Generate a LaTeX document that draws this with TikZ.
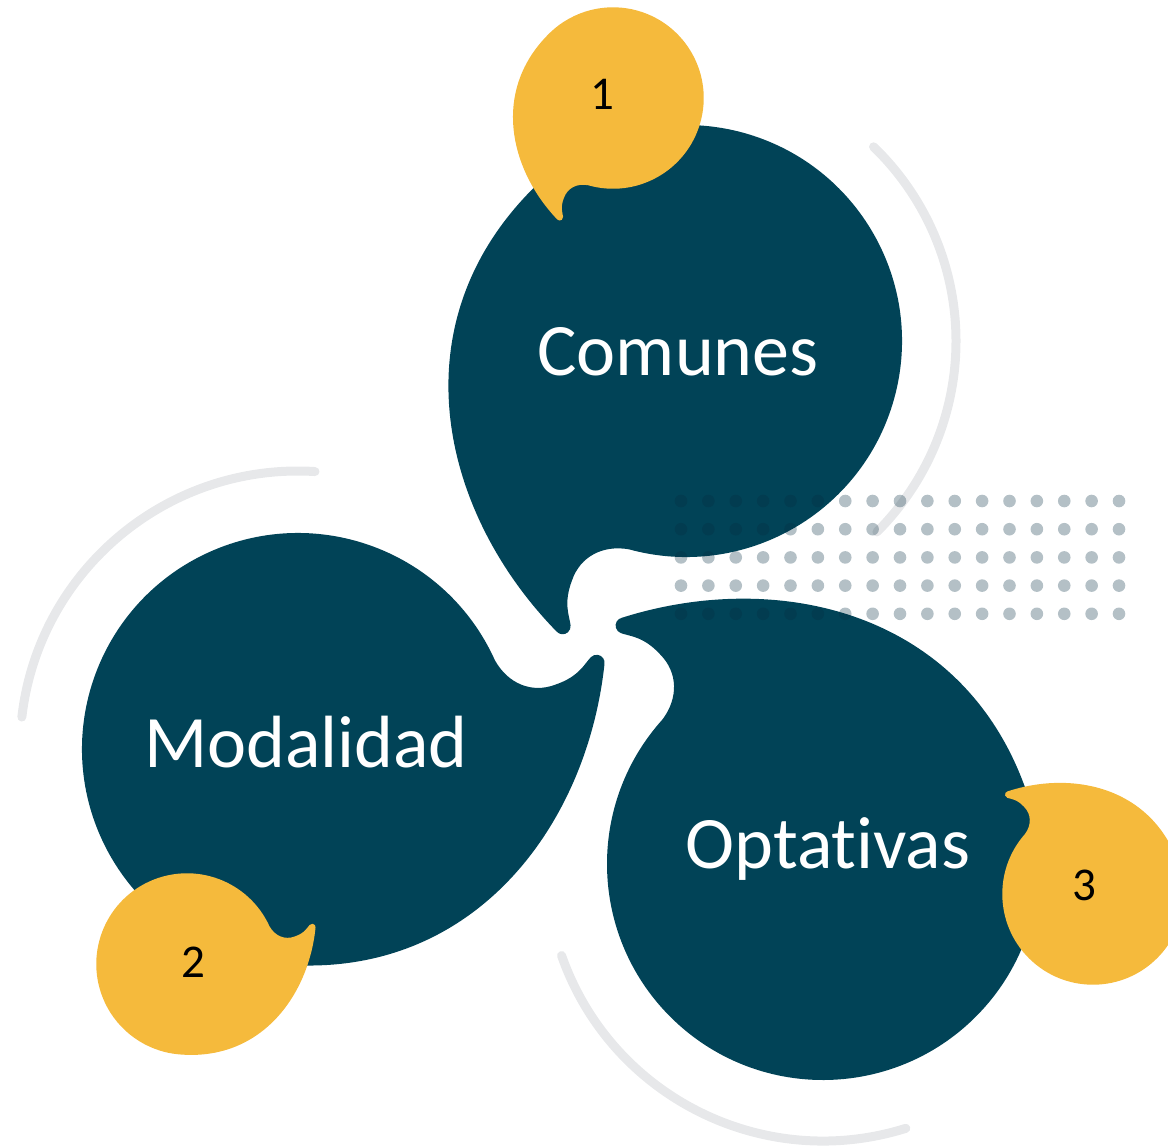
\documentclass[tikz,border=0pt]{standalone}
\usepackage{fontspec}
\setmainfont{Carlito}[RawFeature=-liga]
\usepackage{tikz}

\definecolor{petrol}{RGB}{1,67,87}
\definecolor{mustard}{RGB}{245,186,60}
\definecolor{ringgrey}{RGB}{231,232,234}
\definecolor{dotgrey}{RGB}{5,45,65}

% drop shape: centre, tail angle, scale, colour
\newcommand{\drop}[4]{%
  \fill[#4, shift={#1}, rotate=-#2, scale=#3]
    (-8:216) arc[start angle=-8, end angle=-248, radius=216]
    .. controls (100,273) and (255,157) .. (318,4)
    arc[start angle=26, end angle=-120, radius=8]
    .. controls (299,-2) and (290,9) .. (265,10)
    .. controls (240,12) and (220,-4) .. cycle;}

\begin{document}
\begin{tikzpicture}[x=0.5pt, y=-0.5pt,
    ring/.style={ringgrey, line width=4.5pt, line cap=round},
    dot/.style={dotgrey, opacity=0.3},
    bigtext/.style={white, font=\fontsize{37}{40}\selectfont, anchor=base},
    numtext/.style={black, font=\fontsize{23.5}{26}\selectfont, anchor=base}]
  \useasboundingbox (0,0) rectangle (1168,1146);

  \coordinate (c1) at (686,341);
  \coordinate (c2) at (298,749);
  \coordinate (c3) at (823,864);

  % grey rings
  \draw[ring] (c1) ++(-46:270) arc[start angle=-46, end angle=45, radius=270];
  \draw[ring] (c2) ++(-86.5:278) arc[start angle=-86.5, end angle=-173.4, radius=278];
  \draw[ring] (c3) ++(160.7:277) arc[start angle=160.7, end angle=72.6, radius=277];

  % big drops
  \drop{(c1)}{113.3}{1}{petrol}
  \drop{(c2)}{343.8}{1}{petrol}
  \drop{(c3)}{230}{1}{petrol}

  % small drops
  \drop{(613,98)}{114}{0.42}{mustard}
  \drop{(187,964)}{343.5}{0.42}{mustard}
  \drop{(1093,894)}{229.5}{0.42}{mustard}

  % dot grid
  \foreach \i in {0,...,16}
    \foreach \j in {0,...,4}
      \fill[dot] ({681+27.375*\i},{501+28.2*\j}) circle[radius=6.3];

  \node[bigtext] (comunes) at (678,375) {Comunes};
  \node[bigtext] (modalidad) at (306,767) {Modalidad};
  \node[bigtext] (optativas) at (828,868) {Optativas};

  \node[numtext] (n1) at (602,109) {1};
  \node[numtext] (n2) at (193,977) {2};
  \node[numtext] (n3) at (1084,900) {3};
\end{tikzpicture}
\end{document}
